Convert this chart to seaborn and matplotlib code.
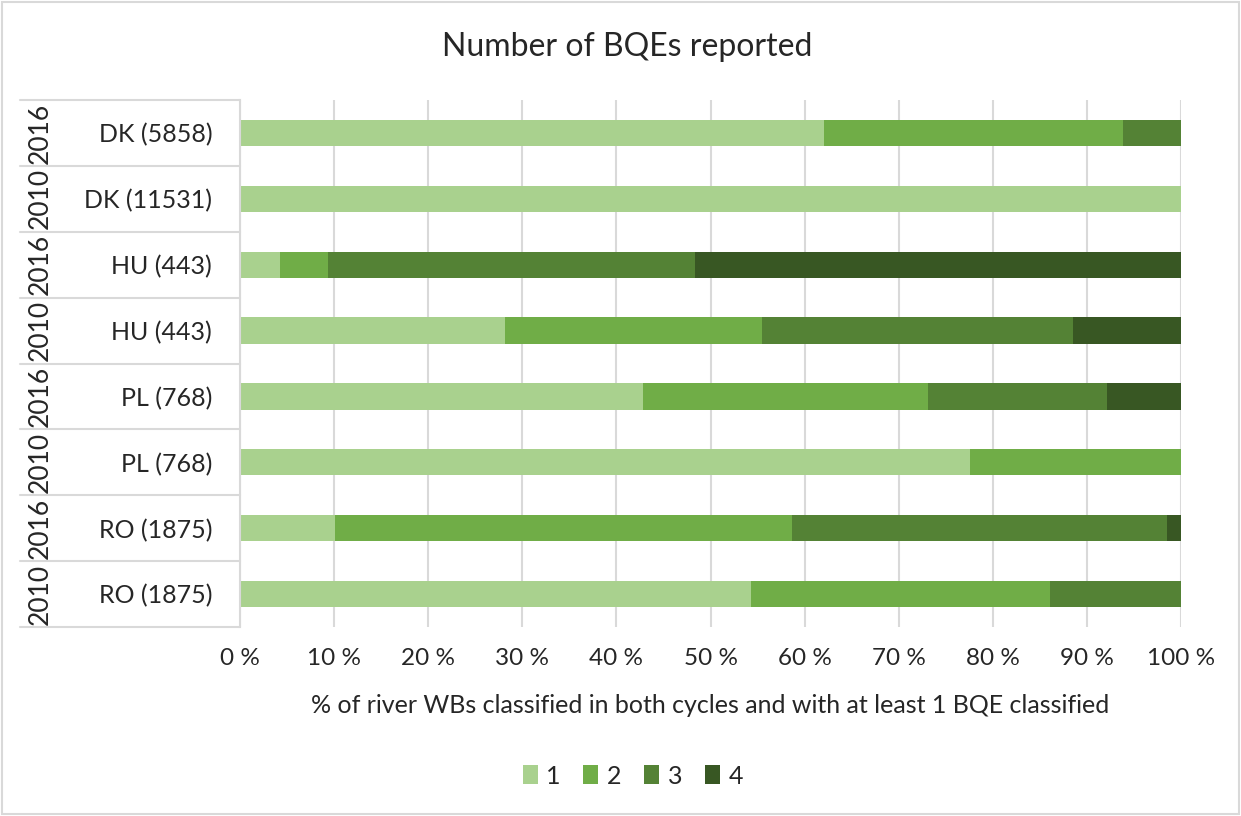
import numpy as np
import pandas as pd
import matplotlib
matplotlib.use("Agg")
import matplotlib.pyplot as plt
import matplotlib.transforms as mtransforms
from matplotlib.patches import Rectangle, Patch
import seaborn as sns

# rows from top to bottom
countries = ["DK (5858)", "DK (11531)", "HU (443)", "HU (443)",
             "PL (768)", "PL (768)", "RO (1875)", "RO (1875)"]
years = ["2016", "2010", "2016", "2010", "2016", "2010", "2016", "2010"]

# share (%) of water bodies by number of BQEs reported
bqe1 = [62.1, 100.0, 4.3, 28.2, 42.8, 77.6, 10.1, 54.3]
bqe2 = [31.7, 0.0, 5.0, 27.3, 30.3, 22.4, 48.6, 31.8]
bqe3 = [6.2, 0.0, 39.0, 33.0, 19.0, 0.0, 39.8, 13.9]
bqe4 = [0.0, 0.0, 51.7, 11.5, 7.9, 0.0, 1.5, 0.0]

levels = ["1", "2", "3", "4"]
colors = ["#A9D18E", "#70AD47", "#548235", "#385723"]

sns.set_theme(style="white")
plt.rcParams["font.family"] = ["Lato", "DejaVu Sans"]

rows = [f"{y} {c}" for y, c in zip(years, countries)]
df = pd.DataFrame({"row": rows, "1": bqe1, "2": bqe2, "3": bqe3, "4": bqe4})
cum = df[levels].cumsum(axis=1)
cum["row"] = df["row"]

fig = plt.figure(figsize=(12.41, 8.16), dpi=100)
ax = fig.add_axes([240 / 1241, 1 - 627 / 816, 941 / 1241, 527 / 816])

# stacked bars: draw cumulative totals, largest first
for lev, col in reversed(list(zip(levels, colors))):
    sns.barplot(data=cum, x=lev, y="row", order=rows, color=col,
                orient="h", width=0.4, saturation=1, ax=ax, linewidth=0)

txt = "#262626"
ax.set_xlim(0, 100)
ax.set_xticks(np.arange(0, 101, 10))
ax.set_xticklabels([f"{t} %" for t in range(0, 101, 10)], fontsize=17.5, color=txt)
ax.set_yticks(range(len(rows)))
ax.set_yticklabels(countries, fontsize=18, color=txt)
ax.tick_params(axis="both", length=0)
ax.tick_params(axis="y", pad=20)
ax.tick_params(axis="x", pad=15)
ax.grid(axis="x", color="#d9d9d9", linewidth=1.5)
ax.set_axisbelow(True)
for s in ["top", "right", "bottom"]:
    ax.spines[s].set_visible(False)
ax.spines["left"].set_color("#d9d9d9")
ax.spines["left"].set_linewidth(1.5)
ax.set_ylim(len(rows) - 0.5, -0.5)

ax.set_xlabel("% of river WBs classified in both cycles and with at least 1 BQE classified",
              fontsize=18, color=txt, labelpad=18)
ax.set_ylabel("")

# two-level category table on the left
trans = mtransforms.blended_transform_factory(ax.transAxes, ax.transData)
x0 = (20 - 240) / 941
for b in np.arange(-0.5, len(rows), 1.0):
    ax.plot([x0, 0], [b, b], color="#d9d9d9", linewidth=1.5,
            transform=trans, clip_on=False)
for i, yr in enumerate(years):
    ax.text((40 - 240) / 941, i, yr, rotation=90, ha="center", va="center",
            fontsize=19, color=txt, transform=trans)

fig.text(0.505, 1 - 47 / 816, "Number of BQEs reported", ha="center", va="center",
         fontsize=23, color=txt)

handles = [Patch(facecolor=c, edgecolor="none") for c in colors]
fig.legend(handles, levels, loc="center", bbox_to_anchor=(0.51, 1 - 776 / 816),
           ncol=4, frameon=False, fontsize=18, handlelength=0.6, handleheight=0.8,
           handletextpad=0.35, columnspacing=0.9)

fig.patches.append(Rectangle((0.002, 0.002), 0.996, 0.996, transform=fig.transFigure,
                             fill=False, edgecolor="#d9d9d9", linewidth=1.5))

fig.savefig("out.png", dpi=100)
